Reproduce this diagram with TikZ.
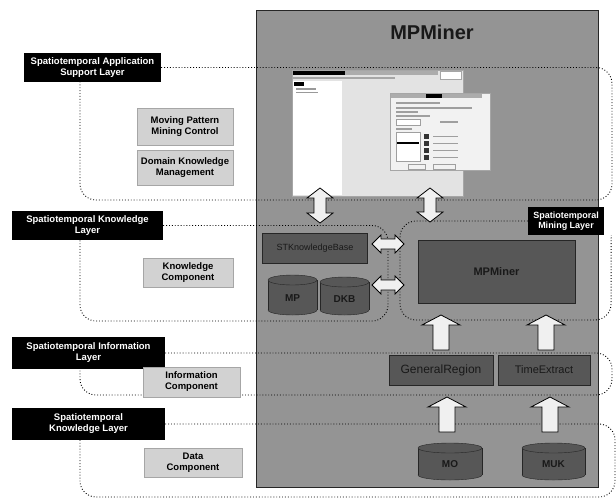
\documentclass[tikz,border=0pt]{standalone}
\usepackage{fontspec}
\setmainfont{Liberation Sans}
\usetikzlibrary{patterns,calc}
\newcommand\mycyl[6]{%
  \filldraw[cylbody] ({(#2+#4)/2},{#5-5}) ellipse [x radius={(#4-#2)/2}, y radius=5];
  \fill[cylfill] (#2,{#3+5}) rectangle (#4,{#5-5});
  \draw[cylline] (#2,{#3+5}) -- (#2,{#5-5}) (#4,{#3+5}) -- (#4,{#5-5});
  \filldraw[cylbody] ({(#2+#4)/2},{#3+5}) ellipse [x radius={(#4-#2)/2}, y radius=5];
  \node[cyltext] (#1) at ({(#2+#4)/2},{(#3+#5)/2+3}) {#6};}
\newcommand\blkup[3]{%
  \filldraw[blk] ({#1-8},#3) -- ({#1-8},{#2+10}) -- ({#1-19},{#2+10}) -- (#1,#2)
   -- ({#1+19},{#2+10}) -- ({#1+8},{#2+10}) -- ({#1+8},#3) -- cycle;}
\newcommand\blkud[3]{%
  \filldraw[blk] ({#1-6},{#3-10}) -- ({#1-6},{#2+10}) -- ({#1-13},{#2+10}) -- (#1,#2)
   -- ({#1+13},{#2+10}) -- ({#1+6},{#2+10}) -- ({#1+6},{#3-10}) -- ({#1+13},{#3-10})
   -- (#1,#3) -- ({#1-13},{#3-10}) -- cycle;}
\newcommand\blklr[3]{%
  \filldraw[blk] ({#2+9},{#1-5}) -- ({#3-9},{#1-5}) -- ({#3-9},{#1-9}) -- (#3,#1)
   -- ({#3-9},{#1+9}) -- ({#3-9},{#1+5}) -- ({#2+9},{#1+5}) -- ({#2+9},{#1+9})
   -- (#2,#1) -- ({#2+9},{#1-9}) -- cycle;}
\begin{document}
\begin{tikzpicture}[x=1pt,y=-1pt,
  layer/.style={fill=black, text=white, font=\fontsize{9.5}{11}\selectfont\bfseries,
    align=center, inner sep=0pt},
  comp/.style={fill=gray!35, draw=gray!70, text=black, font=\fontsize{9.5}{11}\selectfont\bfseries,
    align=center, inner sep=0pt},
  darkbox/.style={fill=black!66, draw=black!85, text=black!90, inner sep=0pt},
  cylbody/.style={fill=black!66, draw=black!85},
  cylfill/.style={fill=black!66},
  cylline/.style={draw=black!85},
  cyltext/.style={text=black!90, font=\fontsize{10}{12}\selectfont\bfseries},
  blk/.style={fill=gray!12, draw=black, line width=0.8pt, line join=miter},
  loop/.style={draw=black, dotted, line width=0.9pt, rounded corners=16pt},
  title/.style={font=\fontsize{20}{24}\selectfont\bfseries, text=black!90}]
\useasboundingbox (0,0) rectangle (616,499);
\fill[white] (0,0) rectangle (616,499);

% main panel
\fill[black!42] (256,10) rectangle (598,487);
\draw[black!85, line width=0.8pt] (256,10) rectangle (598,487);
\node[title] (T) at (432,32) {MPMiner};

% screenshot
\filldraw[fill=gray!22, draw=gray!70] (292,70) rectangle (463,196);
\fill[black] (293,71) rectangle (345,75);
\fill[gray!65] (345,71) rectangle (438,75);
\filldraw[fill=white, draw=gray!70] (440,71) rectangle (461,79);
\fill[gray!70] (293,77) rectangle (395,79);
\fill[white] (293,81) rectangle (342,195);
\fill[black] (294,82) rectangle (304,86);
\fill[gray!80] (296,88) rectangle (316,89.5);
\fill[gray!80] (296,91.5) rectangle (318,93);
\filldraw[fill=gray!10, draw=gray!70] (390,93) rectangle (490,170);
\fill[gray!65] (391,94) rectangle (482,98);
\fill[black] (426,94) rectangle (442,98);
\fill[gray!75] (396,102) rectangle (440,103.5);
\fill[gray!75] (396,107) rectangle (472,109);
\fill[gray!75] (396,111) rectangle (418,112.5);
\fill[gray!75] (396,115) rectangle (430,116.5);
\filldraw[fill=white, draw=gray!75] (396,119) rectangle (420,125);
\fill[gray!75] (440,121) rectangle (458,122.5);
\fill[gray!75] (396,128) rectangle (412,129.5);
\filldraw[fill=white, draw=gray!75] (396,132) rectangle (420,161);
\fill[black] (397,142) rectangle (419,144);
\foreach \yy in {134,141,148,155} {
  \fill[black!80] (424,\yy) rectangle (429,{\yy+5});
  \fill[gray!75] (433,{\yy+1.5}) rectangle (458,{\yy+3});}
\draw[gray!75] (408,164) rectangle (425,169);
\draw[gray!75] (433,164) rectangle (455,169);

% dark boxes
\node[darkbox, minimum width=105, minimum height=30, font=\fontsize{9}{11}\selectfont] (SK) at (315,248) {STKnowledgeBase};
\node[darkbox, minimum width=157, minimum height=63, font=\fontsize{11}{13}\selectfont\bfseries] (MB) at (496.5,271.5) {MPMiner};
\node[darkbox, minimum width=104, minimum height=30] (GR) at (441,370) {};
\node[darkbox, minimum width=92, minimum height=30, font=\fontsize{11}{13}\selectfont] (TE) at (544,370) {TimeExtract};
\node[text=black!90, font=\fontsize{12}{14}\selectfont, inner sep=0pt] (GRt) at (GR.center) {GeneralRegion};

% cylinders
\mycyl{MP}{268}{275}{317}{315}{MP}
\mycyl{DK}{320}{277}{369}{315}{DKB}
\mycyl{MO}{418}{443}{482}{480}{MO}
\mycyl{MU}{522}{443}{585}{480}{MUK}

% layer labels
\node[layer, minimum width=137, minimum height=29] (L1) at (92.5,67.5) {Spatiotemporal Application\\Support Layer};
\node[layer, minimum width=151, minimum height=29] (L2) at (87.5,225.5) {Spatiotemporal Knowledge\\Layer};
\node[layer, minimum width=153, minimum height=32] (L3) at (88.5,353) {Spatiotemporal Information\\Layer};
\node[layer, minimum width=153, minimum height=32] (L4) at (88.5,424) {Spatiotemporal\\Knowledge Layer};
\node[layer, minimum width=76, minimum height=28, font=\fontsize{9}{10.5}\selectfont\bfseries] (L5) at (566,221) {Spatiotemporal\\Mining Layer};

% dotted layer loops
\draw[loop] (L1.east) -- (L1.east -| 612,0) -- (612,200) -- (80,200) -- ([xshift=-12.5pt]L1.south);
\draw[loop] (L2.east) -- (388,225.5) -- (388,321) -- (80,321) -- ([xshift=-7.5pt]L2.south);
\draw[loop] (L5.west) -- (400,221) -- (400,320) -- (611,320) -- ([xshift=7pt]L5.south east);
\draw[loop] (L3.east) -- (L3.east -| 612,0) -- (612,395) -- (80,395) -- ([xshift=-8.5pt]L3.south);
\draw[loop] (L4.east) -- (L4.east -| 615,0) -- (615,497) -- (80,497) -- ([xshift=-8.5pt]L4.south);

% block arrows
\blkud{320}{188}{223}
\blkud{430}{188}{222}
\blklr{244}{372}{404}
\blklr{285}{372}{404}
\blkup{441}{315}{350}
\blkup{546}{315}{350}
\blkup{447}{397}{432}
\blkup{550}{397}{432}

% component boxes
\node[comp, minimum width=96, minimum height=37] (C1) at (185,126.5) {Moving Pattern\\Mining Control};
\node[comp, minimum width=96, minimum height=35] (C2) at (185,167.5) {Domain Knowledge\\Management};
\node[comp, minimum width=90, minimum height=29] (C3) at (188,272.5) {Knowledge\\Component};
\node[comp, minimum width=97, minimum height=30] (C4) at (191.5,382) {Information\\Component};
\node[comp, minimum width=98, minimum height=29] (C5) at (193,462.5) {Data\\Component};
\end{tikzpicture}
\end{document}
